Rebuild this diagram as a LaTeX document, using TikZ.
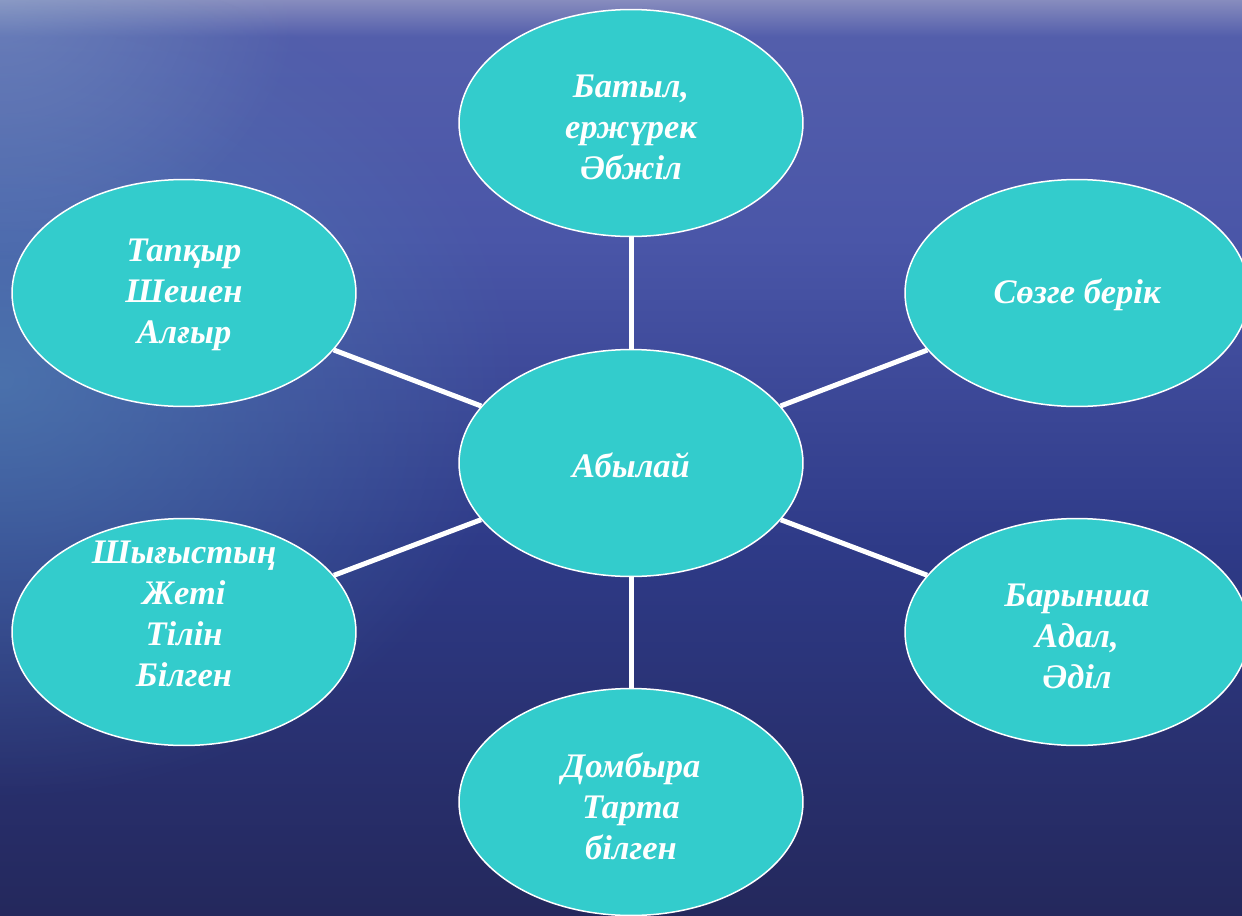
\documentclass[tikz,border=0pt]{standalone}
\usepackage{fontspec}
\setmainfont{Liberation Serif}
\usetikzlibrary{shapes.geometric,fadings}
\definecolor{seaTop}{RGB}{135,140,190}
\definecolor{seaHi}{RGB}{74,86,168}
\definecolor{seaMid}{RGB}{46,58,135}
\definecolor{seaBot}{RGB}{36,40,92}
\definecolor{teal}{RGB}{51,204,204}
\definecolor{glow}{RGB}{80,130,180}
\pgfdeclareverticalshading{sea}{100bp}{color(0bp)=(seaBot); color(25bp)=(seaBot); color(45bp)=(seaMid); color(62bp)=(seaHi); color(73bp)=(seaHi!85!seaTop); color(75bp)=(seaTop); color(100bp)=(seaTop)}
\tikzfading[name=softglow, inner color=transparent!0, outer color=transparent!100]
\tikzset{
  bubble/.style={ellipse, draw=white, line width=0.03cm, fill=teal,
    minimum width=6.88cm, minimum height=4.54cm, inner sep=0pt},
  lbl/.style={text=white, align=center, inner sep=0pt,
    font=\bfseries\itshape\fontsize{19.6}{23.3}\selectfont},
  link/.style={draw=white, line width=0.1cm}
}
\begin{document}
\begin{tikzpicture}[x=0.02cm,y=-0.02cm]
\useasboundingbox (0,0) rectangle (1242,916);
\clip (0,0) rectangle (1242,916);
\shade[shading=sea] (0,0) rectangle (1242,916);
\fill[glow, opacity=0.7, path fading=softglow] (0,380) ellipse [x radius=520, y radius=420];
\fill[glow!60!white, opacity=0.35, path fading=softglow] (0,0) ellipse [x radius=300, y radius=260];
% ellipses
\node[bubble] (c)  at (631,463) {};
\node[bubble] (t)  at (631,123) {};
\node[bubble] (tl) at (184,293) {};
\node[bubble] (tr) at (1077,293) {};
\node[bubble] (bl) at (184,632) {};
\node[bubble] (br) at (1077,632) {};
\node[bubble] (b)  at (631,802) {};
% connectors
\draw[link] (c) -- (t);
\draw[link] (c) -- (tl);
\draw[link] (c) -- (tr);
\draw[link] (c) -- (bl);
\draw[link] (c) -- (br);
\draw[link] (c) -- (b);
% labels
\node[lbl] (lc)  at ([yshift=-0.04cm]c.center) {Абылай};
\node[lbl] (lt)  at ([yshift=-0.08cm]t.center) {Батыл,\\ержүрек\\Әбжіл};
\node[lbl] (ltl) at ([yshift=-0.04cm]tl.center) {Тапқыр\\Шешен\\Алғыр};
\node[lbl] (ltr) at ([yshift=-0.04cm]tr.center) {Сөзге берік};
\node[lbl] (lbl) at ([yshift=0.36cm]bl.center) {Шығыстың\\Жеті\\Тілін\\Білген};
\node[lbl] (lbr) at ([yshift=-0.08cm]br.center) {Барынша\\Адал,\\Әділ};
\node[lbl] (lb)  at ([yshift=-0.08cm]b.center) {Домбыра\\Тарта\\білген};
\end{tikzpicture}
\end{document}
